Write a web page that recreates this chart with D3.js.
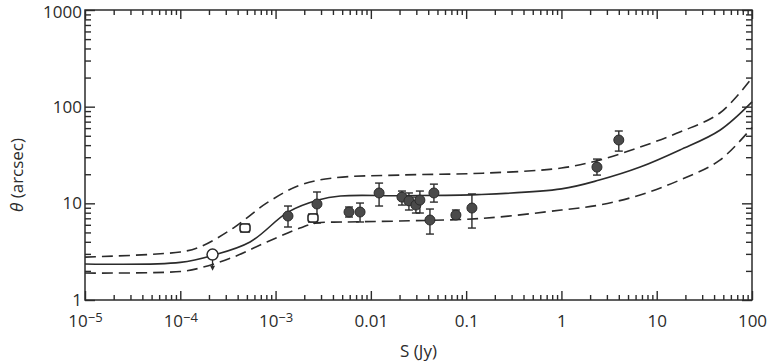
<!DOCTYPE html>
<html>
<head>
<meta charset="utf-8">
<script src="https://cdn.jsdelivr.net/npm/d3@7"></script>
<style>
  body { margin: 0; background: #fff; }
  svg text { font-family: 'Open Sans', 'DejaVu Sans', sans-serif; fill: #2b2b2b; }
</style>
</head>
<body>
<div id="chart"></div>
<script>
const WIDTH = 776, HEIGHT = 362
const MARGIN = { top: 10, right: 24, bottom: 62, left: 85 }
const INK = '#2b2b2b'

// ── model curves (S in Jy, theta in arcsec) ─────────────────────
const solidS     = [1e-5, 1e-4, 2.2e-4, 5.4e-4, 1.35e-3, 2.8e-3, 4.8e-3, 0.02, 0.13, 1, 2.5, 6.7, 17.5, 46, 100]
const solidTheta = [2.36, 2.45, 2.9, 3.98, 8.1, 10.8, 11.9, 12.0, 12.3, 14.1, 17.4, 23.7, 35.6, 57, 112]

const upperS     = [1e-5, 1e-4, 1.6e-4, 3.6e-4, 8.1e-4, 1.8e-3, 4e-3, 0.02, 0.15, 1, 2.5, 6.7, 17.5, 46, 100]
const upperTheta = [2.78, 3.14, 3.53, 5.55, 10.1, 15.4, 18.3, 19.6, 20.5, 23.2, 28, 38.2, 54.6, 86, 198]

const lowerS     = [1e-5, 1e-4, 1.6e-4, 3.6e-4, 8.1e-4, 1.8e-3, 2.7e-3, 5e-3, 0.02, 0.15, 1, 2.5, 6.7, 17.5, 46, 100]
const lowerTheta = [1.9, 1.97, 2.14, 2.78, 3.98, 5.55, 6.26, 6.4, 6.56, 7.0, 8.53, 9.6, 12.2, 17.4, 28, 61]

// ── measured sources ────────────────────────────────────────────
const filledS    = [1.35e-3, 2.72e-3, 5.9e-3, 7.7e-3, 0.0122, 0.0212, 0.0251, 0.0297, 0.0327, 0.0417, 0.0459, 0.0781, 0.115, 2.36, 4.0]
const filledTheta= [7.39, 9.84, 8.13, 8.13, 12.8, 11.6, 10.6, 9.6, 10.8, 6.72, 12.8, 7.57, 8.94, 23.7, 45.2]
const filledHi   = [9.38, 13.1, 9.16, 10.07, 16.2, 13.4, 12.8, 11.6, 13.4, 8.73, 15.8, 8.53, 12.5, 28.7, 56]
const filledLo   = [5.69, 6.26, 7.22, 6.41, 9.38, 9.6, 8.53, 7.94, 7.94, 4.81, 10.3, 6.88, 5.55, 19.6, 34.7]

const squareS     = [4.78e-4, 2.47e-3]
const squareTheta = [5.55, 7.05]
const squareHi    = [6.1, 7.75]
const squareLo    = [5.05, 6.4]

const limitS     = [2.18e-4]
const limitTheta = [2.95]
const limitTo    = [2.05]

// ── axes ────────────────────────────────────────────────────────
const xTickValues = [1e-5, 1e-4, 1e-3, 0.01, 0.1, 1, 10, 100]
const xTickLabels = [['10', '−5'], ['10', '−4'], ['10', '−3'], '0.01', '0.1', '1', '10', '100']
const yTickValues = [1, 10, 100, 1000]
const yTickLabels = ['1', '10', '100', '1000']

const W = WIDTH - MARGIN.left - MARGIN.right
const H = HEIGHT - MARGIN.top - MARGIN.bottom

const x = d3.scaleLog().domain([1e-5, 100]).range([0, W])
const y = d3.scaleLog().domain([1, 1000]).range([H, 0])

const minors = (lo, hi) => {
  const out = []
  for (let e = lo; e < hi; e++) for (let m = 2; m <= 9; m++) out.push(m * Math.pow(10, e))
  return out
}
const xMinor = minors(-5, 2)
const yMinor = minors(0, 3)

const svg = d3.select('#chart').append('svg')
  .attr('width', WIDTH).attr('height', HEIGHT)

const g = svg.append('g').attr('transform', `translate(${MARGIN.left},${MARGIN.top})`)

function styleAxis(sel) {
  sel.selectAll('path, line').attr('stroke', INK).attr('stroke-width', 1.4)
  sel.select('.domain').remove()
}

// minor ticks, all four sides
g.append('g').attr('transform', `translate(0,${H})`)
  .call(d3.axisBottom(x).tickValues(xMinor).tickSizeInner(-5).tickSizeOuter(0).tickFormat(''))
  .call(styleAxis)
g.append('g')
  .call(d3.axisTop(x).tickValues(xMinor).tickSizeInner(-5).tickSizeOuter(0).tickFormat(''))
  .call(styleAxis)
g.append('g')
  .call(d3.axisLeft(y).tickValues(yMinor).tickSizeInner(-6).tickSizeOuter(0).tickFormat(''))
  .call(styleAxis)
g.append('g').attr('transform', `translate(${W},0)`)
  .call(d3.axisRight(y).tickValues(yMinor).tickSizeInner(-6).tickSizeOuter(0).tickFormat(''))
  .call(styleAxis)

// major ticks with labels
const gx = g.append('g').attr('transform', `translate(0,${H})`)
  .call(d3.axisBottom(x).tickValues(xTickValues).tickSizeInner(-9).tickSizeOuter(0).tickPadding(15).tickFormat(''))
  .call(styleAxis)
gx.selectAll('.tick text').each(function (d, i) {
  const t = d3.select(this).style('font-size', '17px')
  const lab = xTickLabels[i]
  if (Array.isArray(lab)) {
    t.append('tspan').text(lab[0])
    t.append('tspan').attr('dy', '-0.4em').style('font-size', '13px').text(lab[1])
  } else {
    t.text(lab)
  }
})

g.append('g')
  .call(d3.axisTop(x).tickValues(xTickValues).tickSizeInner(-9).tickSizeOuter(0).tickFormat(''))
  .call(styleAxis)

const gy = g.append('g')
  .call(d3.axisLeft(y).tickValues(yTickValues).tickSizeInner(-10).tickSizeOuter(0).tickPadding(3)
    .tickFormat((d, i) => yTickLabels[i]))
  .call(styleAxis)
gy.selectAll('text').style('font-size', '17px')
// keep the top label inside the page
gy.selectAll('text').filter(d => d === 1000).attr('dy', '0.45em')

g.append('g').attr('transform', `translate(${W},0)`)
  .call(d3.axisRight(y).tickValues(yTickValues).tickSizeInner(-10).tickSizeOuter(0).tickFormat(''))
  .call(styleAxis)

// frame
g.append('rect').attr('width', W).attr('height', H)
  .attr('fill', 'none').attr('stroke', INK).attr('stroke-width', 1.5)

// axis titles
svg.append('text')
  .attr('x', MARGIN.left + W / 2).attr('y', 357)
  .attr('text-anchor', 'middle').style('font-size', '17px')
  .text('S (Jy)')

svg.append('text')
  .attr('transform', `translate(23,${MARGIN.top + 165}) rotate(-90)`)
  .attr('text-anchor', 'middle').style('font-size', '17px')
  .html('<tspan font-style="italic">θ</tspan> (arcsec)')

// ── curves ──────────────────────────────────────────────────────
const line = d3.line()
  .x(d => x(d[0]))
  .y(d => y(d[1]))
  .curve(d3.curveCatmullRom.alpha(0.5))

const zip = (a, b) => a.map((v, i) => [v, b[i]])

const gLines = g.append('g').attr('fill', 'none').attr('stroke', INK).attr('stroke-width', 1.6)
gLines.append('path').attr('d', line(zip(solidS, solidTheta)))
gLines.append('path').attr('d', line(zip(upperS, upperTheta))).attr('stroke-dasharray', '11 6')
gLines.append('path').attr('d', line(zip(lowerS, lowerTheta))).attr('stroke-dasharray', '11 6')

// ── error bars ──────────────────────────────────────────────────
const gErr = g.append('g').attr('stroke', INK).attr('stroke-width', 1.4)
function errBar(s, lo, hi, cap) {
  const cx = x(s)
  gErr.append('line').attr('x1', cx).attr('x2', cx).attr('y1', y(lo)).attr('y2', y(hi))
  gErr.append('line').attr('x1', cx - cap).attr('x2', cx + cap).attr('y1', y(hi)).attr('y2', y(hi))
  gErr.append('line').attr('x1', cx - cap).attr('x2', cx + cap).attr('y1', y(lo)).attr('y2', y(lo))
}
filledS.forEach((s, i) => errBar(s, filledLo[i], filledHi[i], 4))
squareS.forEach((s, i) => errBar(s, squareLo[i], squareHi[i], 5))

// ── markers ─────────────────────────────────────────────────────
g.append('g').selectAll('circle').data(filledS).join('circle')
  .attr('cx', d => x(d)).attr('cy', (d, i) => y(filledTheta[i]))
  .attr('r', 5).attr('fill', '#4a4a4a').attr('stroke', INK).attr('stroke-width', 1)

g.append('g').selectAll('rect').data(squareS).join('rect')
  .attr('x', d => x(d) - 5).attr('y', (d, i) => y(squareTheta[i]) - 4)
  .attr('width', 10).attr('height', 8).attr('rx', 2.5)
  .attr('fill', '#fff').attr('stroke', INK).attr('stroke-width', 1.6)

// upper limit: open circle with arrow down
const gLim = g.append('g')
limitS.forEach((s, i) => {
  const cx = x(s), cy = y(limitTheta[i]), ty = y(limitTo[i])
  gLim.append('line').attr('x1', cx).attr('x2', cx).attr('y1', cy).attr('y2', ty - 2)
    .attr('stroke', INK).attr('stroke-width', 1.3)
  gLim.append('path').attr('d', `M${cx - 2.5},${ty - 4}L${cx + 2.5},${ty - 4}L${cx},${ty + 1}Z`)
    .attr('fill', INK)
  gLim.append('circle').attr('cx', cx).attr('cy', cy).attr('r', 5.5)
    .attr('fill', '#fff').attr('stroke', INK).attr('stroke-width', 1.5)
})
</script>
</body>
</html>
